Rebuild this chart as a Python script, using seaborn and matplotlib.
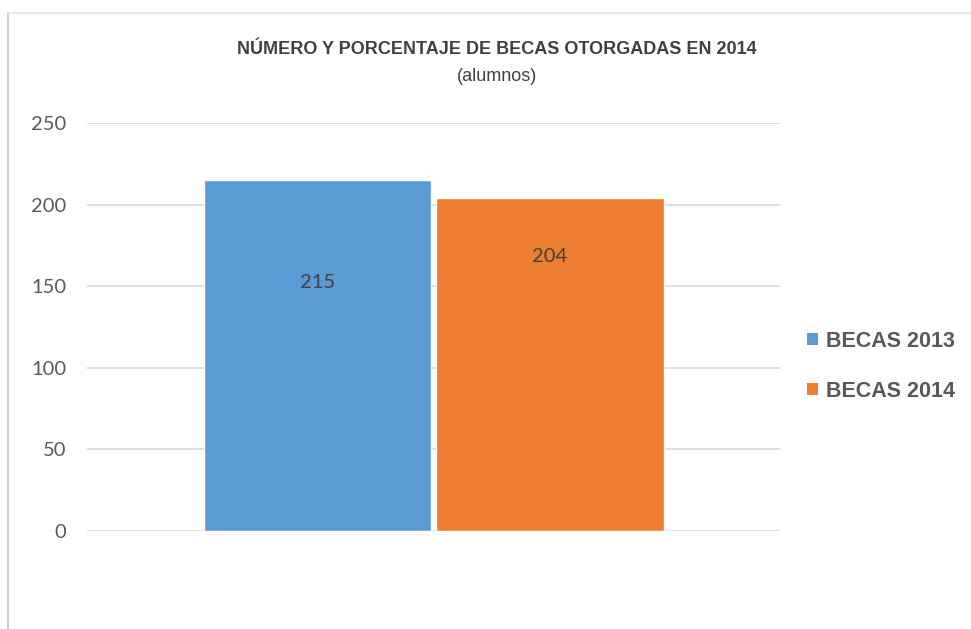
import matplotlib
matplotlib.use("Agg")
import matplotlib.pyplot as plt
import seaborn as sns
import pandas as pd
from matplotlib.patches import Patch

# Datos
series = ["BECAS 2013", "BECAS 2014"]
valores = [215, 204]
categoria = [""] * len(series)
colores = ["#5B9BD5", "#ED7D31"]
yticks = [0, 50, 100, 150, 200, 250]

df = pd.DataFrame({"cat": categoria, "serie": series, "valor": valores})

sns.set_style("white")
plt.rcParams["font.family"] = ["Lato", "DejaVu Sans"]

fig = plt.figure(figsize=(9.71, 6.29), dpi=100)
fig.patch.set_facecolor("white")
ax = fig.add_axes([0.0896, 0.1558, 0.714, 0.6487])

sns.barplot(data=df, x="cat", y="valor", hue="serie", palette=colores,
            width=0.67, gap=0.02, ax=ax, legend=False, saturation=1)

ax.set_ylim(0, 250)
ax.set_xlim(-0.5, 0.5)
ax.set_yticks(yticks)
ax.set_yticklabels([str(t) for t in yticks], fontsize=14.5, color="#595959")
ax.tick_params(axis="y", length=0, pad=15)
ax.set_xticks([])
ax.set_xlabel("")
ax.set_ylabel("")
ax.grid(axis="y", color="#d9d9d9", linewidth=1.2)
ax.set_axisbelow(True)
for s in ax.spines.values():
    s.set_visible(False)

# etiquetas de datos
for bar, v, ypos in zip(ax.patches, valores, [152, 168]):
    ax.text(bar.get_x() + bar.get_width() / 2, ypos, str(v),
            ha="center", va="center", fontsize=14.5, color="#404040")

# titulo
fig.text(0.512, 0.922, "NÚMERO Y PORCENTAJE DE BECAS OTORGADAS EN 2014",
         ha="center", va="center", fontsize=13, fontweight="bold",
         color="#404040", family=["Liberation Sans", "DejaVu Sans"])
fig.text(0.512, 0.879, "(alumnos)", ha="center", va="center", fontsize=13,
         color="#404040", family=["Liberation Sans", "DejaVu Sans"])

# leyenda
handles = [Patch(facecolor=c, edgecolor="none", label=s) for s, c in zip(series, colores)]
fig.legend(handles=handles, loc="center left", bbox_to_anchor=(0.811, 0.418),
           frameon=False, handlelength=0.5, handleheight=0.5, handletextpad=0.4,
           labelspacing=1.35, prop={"size": 15.5, "weight": "bold", "family": "Liberation Sans"},
           labelcolor="#595959")

# marco exterior
fig.add_artist(plt.Line2D([0.0085, 0.0085], [0, 0.979], color="#d0d0d0",
                          linewidth=1.5, transform=fig.transFigure))
fig.add_artist(plt.Line2D([0.0085, 1], [0.979, 0.979], color="#e4e4e4",
                          linewidth=1.2, transform=fig.transFigure))

fig.savefig("out.png", dpi=100)
